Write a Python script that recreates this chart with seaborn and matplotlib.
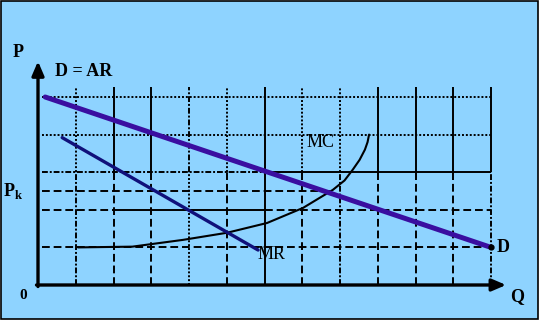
import matplotlib
matplotlib.use("Agg")
import matplotlib.pyplot as plt
from matplotlib.patches import Rectangle
import seaborn as sns
import pandas as pd

sns.set_theme(style="white")
plt.rcParams['font.family'] = ['Liberation Serif', 'DejaVu Serif']

# ---- data ----
d_q = [0.19, 12.0]
d_p = [5.0, 1.0]
mr_q = [0.64, 5.83]
mr_p = [3.92, 0.93]
mc_q = [1.06, 2.5, 3.84, 5.01, 6.07, 7.02, 7.81, 8.12, 8.34, 8.52, 8.66, 8.73, 8.77]
mc_p = [1.00, 1.02, 1.20, 1.39, 1.65, 2.05, 2.53, 2.78, 3.07, 3.33, 3.60, 3.80, 4.00]
grid_q = [1, 2, 3, 4, 5, 6, 7, 8, 9, 10, 11, 12]
grid_p_seg = [1, 2, 2, 2, 2.5, 3, 3, 4, 5]
grid_p_start = [0.1, 0.1, 2, 6, 0.1, 0.1, 6, 0.1, 0.1]
grid_p_end = [12, 2, 6, 12, 7.8, 6, 12, 12, 12]

BG = "#8ed3ff"
W, H = 547, 323
fig = plt.figure(figsize=(W / 100, H / 100), dpi=100)
fig.patch.set_facecolor("white")
fig.patches.append(Rectangle((0.5 / W, 1 - 318.5 / H), 537 / W, 317.5 / H,
                             transform=fig.transFigure, facecolor=BG,
                             edgecolor="black", linewidth=1.2, zorder=-5))
ax = fig.add_axes([0, 0, 1, 1])
ax.set_zorder(2)
ax.set_facecolor("none")
ax.patch.set_alpha(0)
ux, uy = 37.75, 37.6
ax.set_xlim(-38 / ux, (W - 38) / ux)
ax.set_ylim(-(H - 285) / uy, 285 / uy)

DOT = (0, (1, 1))
DASH = (0, (4, 2))
DASHDOT = (0, (3, 1, 1, 1))
# grid: vertical lines with different styles in upper and lower part
upper_styles = [DOT, "-", "-", DASHDOT, DOT, "-", DOT, DOT, "-", "-", "-", "-"]
lower_styles = [DASHDOT, DASH, DASH, DOT, DASH, "-", DASH, DASHDOT, DASH, DASH, DASH, DASHDOT]
for q, su, sl in zip(grid_q, upper_styles, lower_styles):
    ax.vlines(q, 3, 5.27, colors="black", linestyles=[su], linewidth=1.4, zorder=1)
    ax.vlines(q, 0, 3, colors="black", linestyles=[sl], linewidth=1.4, zorder=1)
h_styles = [DASH, DASH, "-", DASH, DASH, DASHDOT, "-", DOT, DOT]
for p, s0, e, s in zip(grid_p_seg, grid_p_start, grid_p_end, h_styles):
    ax.hlines(p, s0, e, colors="black", linestyles=[s], linewidth=1.4, zorder=1)

# curves
df_d = pd.DataFrame({"Q": d_q, "P": d_p})
df_mr = pd.DataFrame({"Q": mr_q, "P": mr_p})
df_mc = pd.DataFrame({"Q": mc_q, "P": mc_p})
sns.lineplot(data=df_mc, x="Q", y="P", ax=ax, color="black", linewidth=1.5,
             sort=False, zorder=3)
sns.lineplot(data=df_mr, x="Q", y="P", ax=ax, color="#10107a", linewidth=2.4, zorder=3)
sns.lineplot(data=df_d, x="Q", y="P", ax=ax, color="#3a0ea0", linewidth=3.6, zorder=4)
ax.plot([d_q[-1]], [d_p[-1]], marker="o", color="black", markersize=3.5, zorder=5)
ax.set_xlabel("")
ax.set_ylabel("")
ax.set_xlim(-38 / ux, (W - 38) / ux)
ax.set_ylim(-(H - 285) / uy, 285 / uy)
ax.axis("off")

# axes with arrows
ax.annotate("", xy=(0, 5.95), xytext=(0, -0.04),
            arrowprops=dict(arrowstyle="-|>,head_length=0.7,head_width=0.3",
                            color="black", lw=2.4, shrinkA=0, shrinkB=0), zorder=6)
ax.annotate("", xy=(12.4, 0), xytext=(-0.04, 0),
            arrowprops=dict(arrowstyle="-|>,head_length=0.7,head_width=0.3",
                            color="black", lw=2.4, shrinkA=0, shrinkB=0), zorder=6)

# labels
tk = dict(color="black", fontsize=13, zorder=7)
ax.text(-0.53, 6.18, "P", ha="center", va="center", fontweight="bold", **tk)
ax.text(0.45, 5.67, "D = AR", ha="left", va="center", fontweight="bold", **tk)
ax.text(7.1, 3.8, "MC", ha="left", va="center", **tk)
ax.text(5.82, 0.8, "MR", ha="left", va="center", **tk)
ax.text(12.15, 1.0, "D", ha="left", va="center", fontweight="bold", **tk)
ax.text(12.69, -0.3, "Q", ha="center", va="center", fontweight="bold", **tk)
ax.text(-0.93, 2.5, r"P$_\mathregular{k}$", ha="left", va="center", fontweight="bold", **tk)
ax.text(-0.4, -0.27, "0", ha="center", va="center", fontweight="bold",
        color="black", fontsize=11, zorder=7)

fig.savefig("out.png", dpi=100, facecolor=fig.get_facecolor())
